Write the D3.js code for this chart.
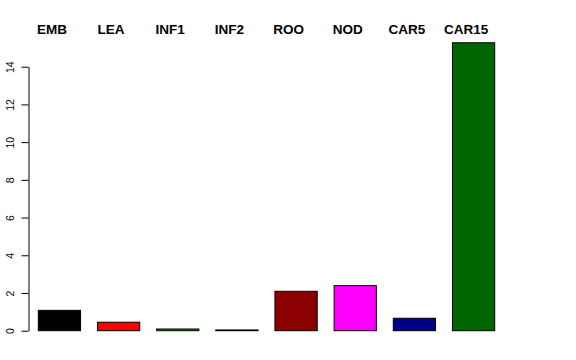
<!DOCTYPE html>
<html><head><meta charset="utf-8">
<script src="https://cdn.jsdelivr.net/npm/d3@7"></script>
<style>body{margin:0;background:#fff}svg{display:block}</style>
</head><body>
<svg id="c" width="576" height="360"></svg>
<script>
const categories = ["EMB","LEA","INF1","INF2","ROO","NOD","CAR5","CAR15"];
const values = [1.08, 0.45, 0.09, 0.04, 2.09, 2.39, 0.66, 15.27];
const colors = ["#000000","#FF0000","#00A000","#000000","#8B0000","#FF00FF","#00008B","#006400"];
const yTicks = [0,2,4,6,8,10,12,14];

const svg = d3.select("#c");
const x = d3.scaleBand().domain(categories).range([38.3, 494.7]).paddingInner(0.4/1.4).paddingOuter(0);
const y = d3.scaleLinear().domain([0,14]).range([330.7, 66.7]);

svg.selectAll("rect.bar").data(categories).enter().append("rect")
  .attr("class","bar")
  .attr("x", d => x(d))
  .attr("width", x.bandwidth())
  .attr("y", (d,i) => y(values[i]))
  .attr("height", (d,i) => y(0) - y(values[i]))
  .attr("fill", (d,i) => colors[i])
  .attr("stroke", "#000").attr("stroke-width", 1);

const ax = svg.append("g").attr("transform","translate(28.5,0)")
  .call(d3.axisLeft(y).tickValues(yTicks).tickSize(7).tickSizeOuter(0).tickFormat(d3.format("d")));
ax.select(".domain").attr("stroke","#000");
ax.selectAll(".tick line").attr("stroke","#000");
ax.selectAll(".tick text")
  .attr("font-family","'Liberation Sans', Arial, sans-serif").attr("font-size","10.5px").attr("fill","#000")
  .attr("transform","rotate(-90)").attr("x",0).attr("y",-15).attr("dy",0)
  .attr("text-anchor","middle");

svg.selectAll("text.lab").data(categories).enter().append("text")
  .attr("class","lab")
  .attr("x", d => x(d) + x.bandwidth()/2 - 7.5)
  .attr("y", 34)
  .attr("text-anchor","middle")
  .attr("font-family","'Liberation Sans', Arial, sans-serif")
  .attr("font-weight","bold").attr("font-size","13.5px")
  .text(d => d);
</script>
</body></html>
